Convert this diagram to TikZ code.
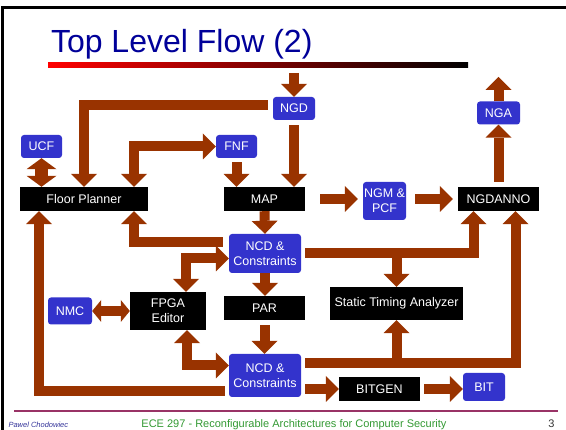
\documentclass[tikz,border=0pt]{standalone}
\usepackage{fontspec}
\setmainfont{Liberation Sans}
\usetikzlibrary{arrows.meta}
\definecolor{flowbrown}{RGB}{153,51,0}
\definecolor{boxblue}{RGB}{51,51,204}
\definecolor{titleblue}{RGB}{0,0,153}
\definecolor{footgreen}{RGB}{51,153,51}
\definecolor{rulemauve}{RGB}{153,51,102}
\definecolor{authorblue}{RGB}{51,51,153}
\tikzset{
  bluebox/.style={fill=boxblue, rounded corners=3pt, text=white, inner sep=0pt, align=center, font=\fontsize{12.5}{15}\selectfont},
  blackbox/.style={fill=black, text=white, inner sep=0pt, align=center, font=\fontsize{12.5}{15}\selectfont},
  flow/.style={draw=flowbrown, line width=10pt, line join=miter, >={Triangle[width=26pt,length=13pt,line width=0pt]}, ->},
  flowboth/.style={flow, <->},
}
\begin{document}
\begin{tikzpicture}[x=1pt,y=-1pt]
        \useasboundingbox (0,0) rectangle (566,430);
        \draw[line width=3pt] (2.5,430) -- (2.5,7.5) -- (566,7.5);
        \node[anchor=base west, text=titleblue, font=\fontsize{32}{36}\selectfont] (title) at (47.5,53) {Top Level Flow (2)};
        \shade[left color=red, middle color=red!70!black, right color=black] (48,63) rectangle (468,68);
        \node[bluebox, minimum width=42pt, minimum height=23pt] (NGD) at (294,108.5) {NGD};
        \node[bluebox, minimum width=43pt, minimum height=23pt] (NGA) at (498.5,113) {NGA};
        \node[bluebox, minimum width=41pt, minimum height=23pt] (UCF) at (41.5,146.5) {UCF};
        \node[bluebox, minimum width=41pt, minimum height=23pt] (FNF) at (236.5,146.5) {FNF};
        \node[blackbox, minimum width=128pt, minimum height=24pt] (FP) at (84,199) {Floor Planner};
        \node[blackbox, minimum width=81pt, minimum height=24pt] (MAP) at (264.5,199) {MAP};
        \node[bluebox, minimum width=43pt, minimum height=38pt] (NGM) at (384.5,201) {NGM \&\\PCF};
        \node[blackbox, minimum width=81pt, minimum height=24pt] (NGDANNO) at (498.5,199) {NGDANNO};
        \node[bluebox, minimum width=72pt, minimum height=39pt] (NCDa) at (265,253.5) {NCD \&\\Constraints};
        \node[blackbox, minimum width=76pt, minimum height=38pt] (FPGA) at (168,311) {FPGA\\Editor};
        \node[blackbox, minimum width=81pt, minimum height=24pt] (PAR) at (264.5,308) {PAR};
        \node[blackbox, minimum width=133pt, minimum height=33pt] (STA) at (396.5,303.5) {Static Timing Analyzer};
        \node[bluebox, minimum width=44pt, minimum height=27pt] (NMC) at (70,311) {NMC};
        \node[bluebox, minimum width=72pt, minimum height=43pt] (NCDb) at (265,375.5) {NCD \&\\Constraints};
        \node[blackbox, minimum width=81pt, minimum height=24pt] (BITGEN) at (379.5,389) {BITGEN};
        \node[bluebox, minimum width=42pt, minimum height=28pt] (BIT) at (484,387) {BIT};
        \coordinate (ngdin) at (294,73);
        \coordinate (ngaout) at (498.5,77);
        \coordinate (ncdbout) at ([yshift=12pt]NCDb.east);
        \draw[flow] (ngdin) -- (NGD.north);
        \draw[flow, shorten <=5pt] ([yshift=3pt]NGD.west) -| (FP.north);
        \draw[flow, shorten <=5pt] (NGD.south) -- (NGD.south |- MAP.north);
        \draw[flowboth, line width=13pt, >={Triangle[width=30pt,length=11pt,line width=0pt]}] (UCF.south) -- (UCF.south |- FP.north);
        \draw[flowboth] ([xshift=50pt]FP.north) |- (FNF.west);
        \draw[flow, shorten <=4pt] (FNF.south) -- (FNF.south |- MAP.north);
        \draw[flow] (MAP.south) -- (NCDa.north);
        \draw[flow, shorten <=15pt, shorten >=5pt] (MAP.east) -- (MAP.east -| NGM.west);
        \draw[flow, shorten <=9pt, shorten >=5pt] (NGM.east |- NGDANNO.west) -- (NGDANNO.west);
        \draw[flow, shorten <=6pt] ([yshift=11pt]NCDa.west) -| ([xshift=50pt]FP.south);
        \draw[flowboth] ([yshift=-5pt]NCDa.west) -| ([xshift=18pt]FPGA.north);
        \draw[flow, shorten <=4pt] (NCDa.east) -| ([xshift=-25pt]NGDANNO.south);
        \draw[flow] (STA.north |- NCDa.east) -- (STA.north);
        \draw[flow, shorten <=4pt] (ncdbout) -| ([xshift=17pt]NGDANNO.south);
        \draw[flow] (STA.south |- ncdbout) -- (STA.south);
        \draw[flow, shorten <=4pt] ([yshift=-16pt]NCDb.west) -| ([xshift=-45pt]FP.south);
        \draw[flowboth] ([xshift=19pt]FPGA.south) |- ([yshift=10pt]NCDb.west);
        \draw[flowboth, >={Triangle[width=22pt,length=9pt,line width=0pt]}] (NMC.east) -- (FPGA.west);
        \draw[flow] (NCDa.south) -- (NCDa.south |- PAR.north);
        \draw[flow, shorten <=5pt] (PAR.south) -- (PAR.south |- NCDb.north);
        \draw[flow, shorten <=4pt] (NCDb.east |- BITGEN.west) -- (BITGEN.west);
        \draw[flow, shorten <=4pt] (BITGEN.east) -- (BITGEN.east -| BIT.west);
        \draw[flow, shorten <=5pt] (NGDANNO.north) -- (NGA.south);
        \draw[flow] (NGA.north) -- (ngaout);
        \draw[rulemauve, line width=1.5pt] (14,411) -- (558,411);
        \node[anchor=base west, text=authorblue, font=\fontsize{7.5}{9}\selectfont\itshape] (author) at (5,428) {Pawel Chodowiec};
        \node[anchor=base, text=footgreen, font=\fontsize{11}{13}\selectfont] (course) at (294,428) {ECE 297 - Reconfigurable Architectures for Computer Security};
        \node[anchor=base east, text=black!80, font=\fontsize{11}{13}\selectfont] (page) at (558,428) {3};
\end{tikzpicture}
\end{document}
